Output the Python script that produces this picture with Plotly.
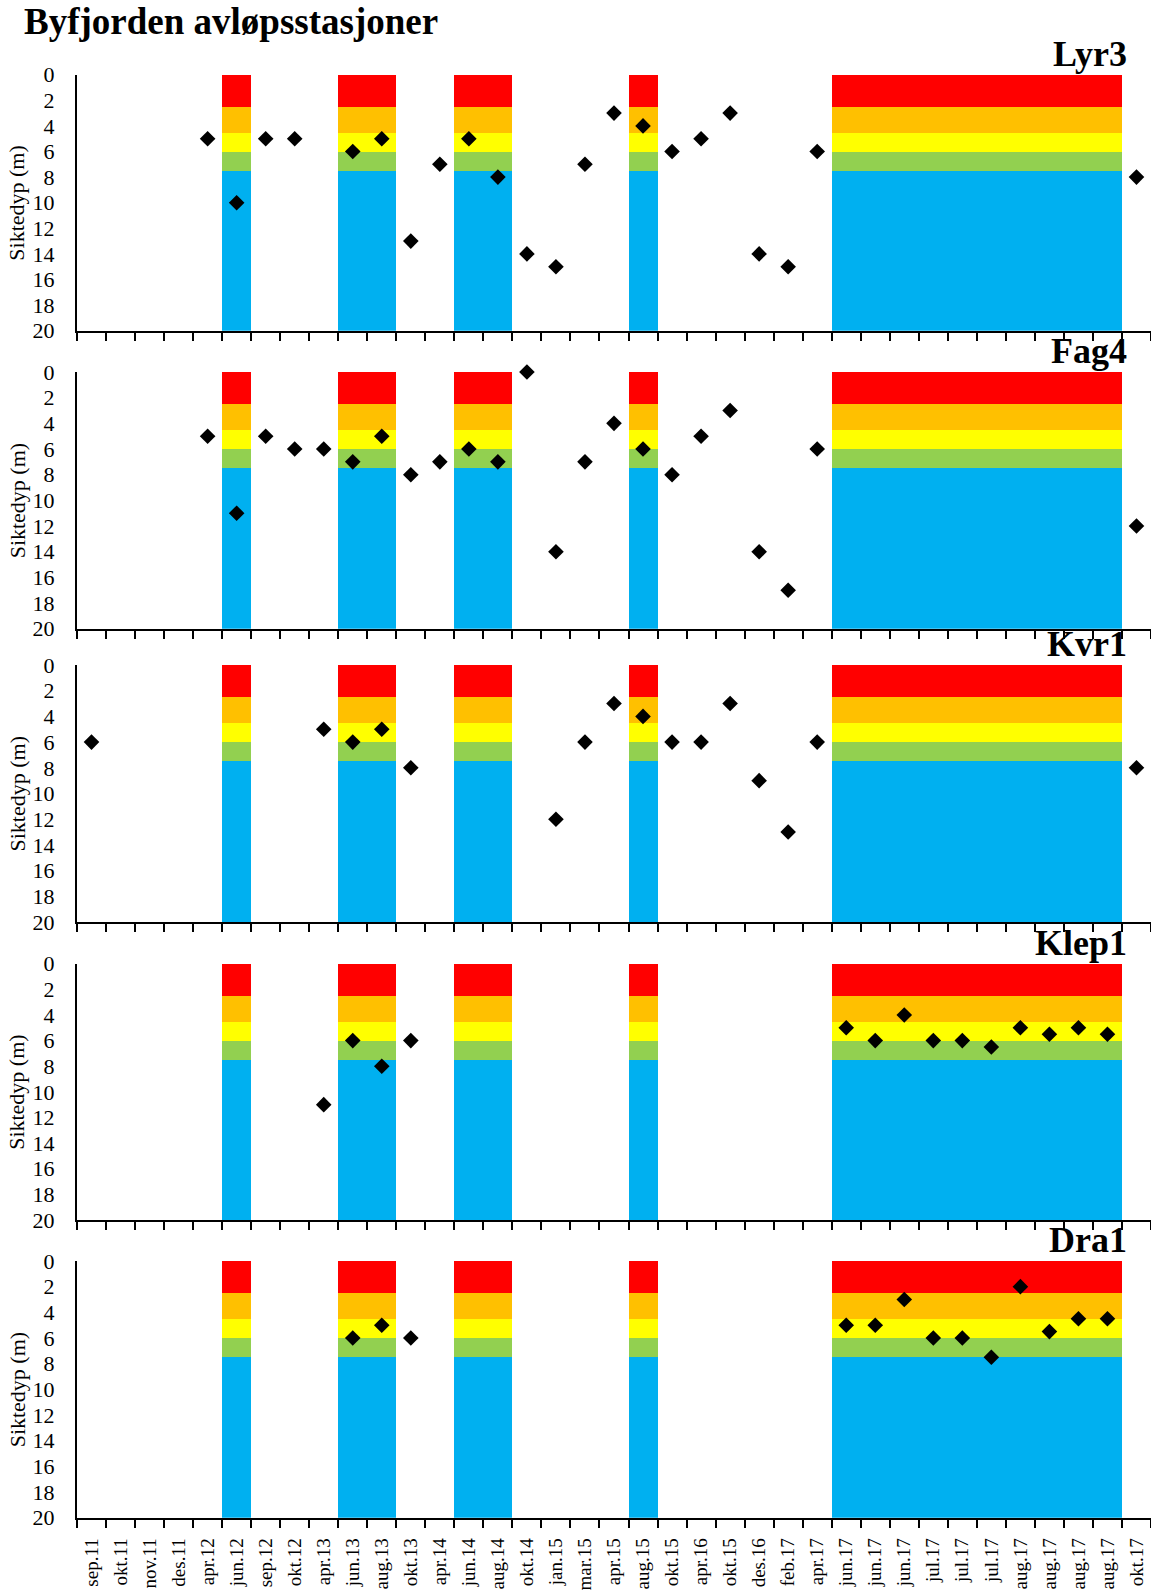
import plotly.graph_objects as go

labels = ["sep.11", "okt.11", "nov.11", "des.11", "apr.12", "jun.12", "sep.12", "okt.12",
          "apr.13", "jun.13", "aug.13", "okt.13", "apr.14", "jun.14", "aug.14", "okt.14",
          "jan.15", "mar.15", "apr.15", "aug.15", "okt.15", "apr.16", "okt.15", "des.16",
          "feb.17", "apr.17", "jun.17", "jun.17", "jun.17", "jul.17", "jul.17", "jul.17",
          "aug.17", "aug.17", "aug.17", "aug.17", "okt.17"]

N = None
lyr3 = [N, N, N, N, 5, 10, 5, 5, N, 6, 5, 13, 7, 5, 8, 14, 15, 7, 3, 4, 6, 5, 3, 14, 15, 6,
        N, N, N, N, N, N, N, N, N, N, 8]
fag4 = [N, N, N, N, 5, 11, 5, 6, 6, 7, 5, 8, 7, 6, 7, 0, 14, 7, 4, 6, 8, 5, 3, 14, 17, 6,
        N, N, N, N, N, N, N, N, N, N, 12]
kvr1 = [6, N, N, N, N, N, N, N, 5, 6, 5, 8, N, N, N, N, 12, 6, 3, 4, 6, 6, 3, 9, 13, 6,
        N, N, N, N, N, N, N, N, N, N, 8]
klep1 = [N, N, N, N, N, N, N, N, 11, 6, 8, 6, N, N, N, N, N, N, N, N, N, N, N, N, N, N,
         5, 6, 4, 6, 6, 6.5, 5, 5.5, 5, 5.5, N]
dra1 = [N, N, N, N, N, N, N, N, N, 6, 5, 6, N, N, N, N, N, N, N, N, N, N, N, N, N, N,
        5, 5, 3, 6, 6, 7.5, 2, 5.5, 4.5, 4.5, N]

stations = ["Lyr3", "Fag4", "Kvr1", "Klep1", "Dra1"]
station_values = [lyr3, fag4, kvr1, klep1, dra1]

# classification shown for these sampling dates (1 = shown)
class_shown = [0, 0, 0, 0, 0, 1, 0, 0, 0, 1, 1, 0, 0, 1, 1, 0, 0, 0, 0, 1, 0, 0, 0, 0, 0, 0,
               1, 1, 1, 1, 1, 1, 1, 1, 1, 1, 0]
# class limits (m): 0-2.5, 2.5-4.5, 4.5-6, 6-7.5, 7.5-20
class_thickness = [2.5, 2.0, 1.5, 1.5, 12.5]
class_colors = ["#FF0000", "#FFC000", "#FFFF00", "#92D050", "#00B0F0"]

FONT = "Liberation Serif"
H = 1591
W = 1151
L = 77
panel_px = [(74.7, 330.7), (372.0, 628.7), (665.0, 922.0), (963.7, 1220.0), (1261.0, 1517.7)]

x = list(range(len(labels)))
fig = go.Figure()
layout = dict(
    width=W, height=H,
    margin=dict(l=L, r=0, t=0, b=0, autoexpand=False),
    paper_bgcolor="white", plot_bgcolor="white",
    barmode="stack", bargap=0, showlegend=False,
    font=dict(family=FONT, color="black"),
)
annotations = []

for i, (name, vals) in enumerate(zip(stations, station_values)):
    k = "" if i == 0 else str(i + 1)
    xa, ya = "x" + k, "y" + k
    for th, col in zip(class_thickness, class_colors):
        fig.add_trace(go.Bar(
            x=x, y=[th * f for f in class_shown], width=1.0,
            marker=dict(color=col, line=dict(width=0)),
            xaxis=xa, yaxis=ya, hoverinfo="skip"))
    fig.add_trace(go.Scatter(
        x=x, y=vals, mode="markers", cliponaxis=False,
        marker=dict(symbol="diamond", size=12, color="black"),
        xaxis=xa, yaxis=ya))
    top, bot = panel_px[i]
    dom = [1 - bot / H, 1 - top / H]
    last = i == len(stations) - 1
    layout["xaxis" + k] = dict(
        domain=[0, 1], anchor=ya, range=[-0.5, len(labels) - 0.5], automargin=False,
        tickmode="array", tickvals=x, ticktext=labels,
        showticklabels=last, ticks="", tickangle=-90,
        ticklabelstandoff=11,
        tickfont=dict(family=FONT, size=19, color="black"),
        showline=True, linecolor="black", linewidth=2, showgrid=False, zeroline=False,
        minor=dict(tickmode="linear", tick0=-0.5, dtick=1, ticks="outside",
                   ticklen=8, tickwidth=2, tickcolor="black", showgrid=False),
    )
    layout["yaxis" + k] = dict(
        domain=dom, anchor=xa, range=[20, 0], automargin=False,
        tickmode="array", tickvals=list(range(0, 21, 2)),
        ticks="", ticklabelstandoff=16,
        tickfont=dict(family=FONT, size=22, color="black"),
        showline=True, linecolor="black", linewidth=2, showgrid=False, zeroline=False,
    )
    annotations.append(dict(
        text="Siktedyp (m)", textangle=-90, xref="paper", yref="paper",
        x=(17 - L) / (W - L), y=(dom[0] + dom[1]) / 2, xanchor="center", yanchor="middle",
        showarrow=False, font=dict(family=FONT, size=22, color="black")))
    annotations.append(dict(
        text="<b>%s</b>" % name, xref="paper", yref="paper",
        x=1 - (W - 1129) / (W - L), y=1 - (top - 21) / H, xanchor="right", yanchor="middle",
        showarrow=False, font=dict(family=FONT, size=36, color="black")))

annotations.append(dict(
    text="<b>Byfjorden avløpsstasjoner</b>", xref="paper", yref="paper",
    x=(22 - L) / (W - L), y=1 - 22 / H, xanchor="left", yanchor="middle",
    showarrow=False, font=dict(family=FONT, size=37, color="black")))

layout["annotations"] = annotations
fig.update_layout(**layout)
fig.write_html("out.html", config={"displayModeBar": False},
               post_script="document.body.style.margin='0';document.body.style.overflow='hidden';")
